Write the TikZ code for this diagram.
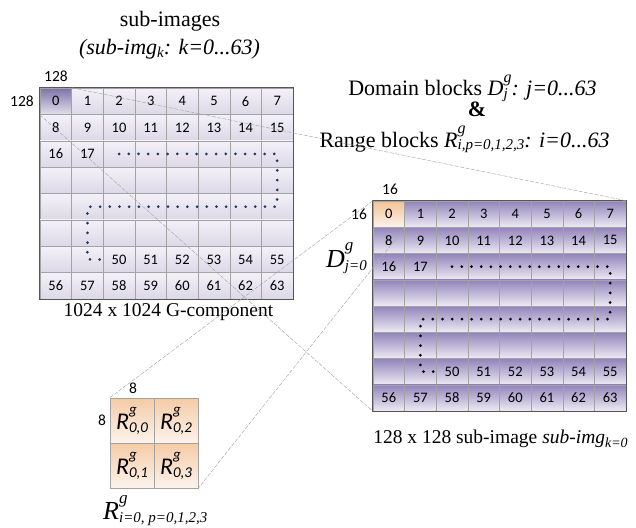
\documentclass[tikz,border=0pt]{standalone}
\usepackage{fontspec}
\setmainfont{Liberation Serif}
\newfontfamily\numfont{Carlito}
\usetikzlibrary{calc,shadings}

\definecolor{lavtop}{HTML}{F3F1F8}
\definecolor{lavbot}{HTML}{DCD8E7}
\definecolor{lavdark}{HTML}{7D72A7}
\definecolor{purtop}{HTML}{9083BA}
\definecolor{purbot}{HTML}{EEEBF4}
\definecolor{peachtop}{HTML}{F3C296}
\definecolor{peachbot}{HTML}{FCF3EC}
\definecolor{gridline}{HTML}{A3A3A3}
\definecolor{frame}{HTML}{555555}
\definecolor{navydot}{HTML}{1F3864}

% superscript and subscript stacked at the same horizontal position
\newcommand\supsub[4]{%
  \setbox0=\hbox{\fontsize{#1}{#1}\selectfont #3}%
  \setbox2=\hbox{\fontsize{#2}{#2}\selectfont #4}%
  \ifdim\wd0>\wd2 \dimen0=\wd0 \else\dimen0=\wd2 \fi
  \hbox to \dimen0{\rlap{\raise0.62em\box0}\lower0.12em\box2\hfil}}

\begin{document}
\begin{tikzpicture}[x=1pt,y=-1pt,
  cellbase/.style={inner sep=0pt, draw=gridline, line width=0.5pt,
    font=\numfont\fontsize{14.5}{14.5}\selectfont},
  lcell/.style={cellbase, minimum width=31.625pt, minimum height=26.375pt,
    top color=lavtop, bottom color=lavbot},
  rcell/.style={cellbase, minimum width=31.625pt, minimum height=26.25pt,
    top color=purtop, bottom color=purbot},
  qcell/.style={cellbase, minimum width=44pt, minimum height=45pt,
    top color=peachtop!85, bottom color=peachbot,
    font=\numfont\itshape\fontsize{24}{24}\selectfont},
  dimlabel/.style={inner sep=0pt, font=\numfont\fontsize{15.5}{15.5}\selectfont},
  title/.style={inner sep=0pt, anchor=base, font=\fontsize{22}{22}\selectfont},
  caption/.style={inner sep=0pt, anchor=base, font=\fontsize{19.5}{19.5}\selectfont},
  symlabel/.style={inner sep=0pt, anchor=base west, font=\itshape\fontsize{26}{26}\selectfont},
  outline/.style={draw=frame, line width=1.2pt},
  guide/.style={draw=gray!70, line width=0.45pt, dash pattern=on 4pt off 1.5pt},
  dotpath/.style={line width=3pt, line cap=round, dash pattern=on 0pt off 9.7pt}
]
\useasboundingbox (0,0) rectangle (636,527);

% ---------- 1024 x 1024 G-component, split into 64 sub-images ----------
\foreach \r in {0,...,7}{
  \foreach \c in {0,...,7}{
    \pgfmathtruncatemacro\k{8*\r+\c}
    \def\celltext{}
    \ifnum\r<2 \edef\celltext{\k}\fi
    \ifnum\r=7 \edef\celltext{\k}\fi
    \ifnum\r=2 \ifnum\c<2 \edef\celltext{\k}\fi\fi
    \ifnum\r=6 \ifnum\c>1 \edef\celltext{\k}\fi\fi
    \node[lcell] (L\k) at ({40+31.625*(\c+0.5)},{88+26.375*(\r+0.5)}) {\celltext};
  }
}
\node[lcell, top color=lavdark, bottom color=lavbot!80] (L0b) at (L0.center) {0};
\draw[outline] (L0.north west) rectangle (L63.south east);
\draw[dotpath, navydot] (L18.center) -- (L23.center) -- (L39.center)
  -- (L33.center) -- (L49.center) -- (L49.east);

% ---------- one 128 x 128 sub-image, split into 64 domain blocks ----------
\foreach \r in {0,...,7}{
  \foreach \c in {0,...,7}{
    \pgfmathtruncatemacro\k{8*\r+\c}
    \def\celltext{}
    \ifnum\r<2 \edef\celltext{\k}\fi
    \ifnum\r=7 \edef\celltext{\k}\fi
    \ifnum\r=2 \ifnum\c<2 \edef\celltext{\k}\fi\fi
    \ifnum\r=6 \ifnum\c>1 \edef\celltext{\k}\fi\fi
    \node[rcell] (R\k) at ({373+31.625*(\c+0.5)},{201+26.25*(\r+0.5)}) {\celltext};
  }
}
\node[rcell, top color=peachtop, bottom color=peachbot] (R0b) at (R0.center) {0};
\draw[outline] (R0.north west) rectangle (R63.south east);
\draw[dotpath, black] (R18.center) -- (R23.center) -- (R39.center)
  -- (R33.center) -- (R49.center) -- (R49.east);

% ---------- 8 x 8 range blocks inside domain block 0 ----------
\node[qcell] (Q0) at (132,420.5) {R\supsub{15}{15}{g}{0,0}};
\node[qcell] (Q2) at (176,420.5) {R\supsub{15}{15}{g}{0,2}};
\node[qcell] (Q1) at (132,465.5) {R\supsub{15}{15}{g}{0,1}};
\node[qcell] (Q3) at (176,465.5) {R\supsub{15}{15}{g}{0,3}};

% ---------- size labels ----------
\node[dimlabel] (w128) at (56,76) {128};
\node[dimlabel] (h128) at (22,101.5) {128};
\node[dimlabel] (w16) at (390,189) {16};
\node[dimlabel] (h16) at (359,214) {16};
\node[dimlabel] (w8) at (133,388) {8};
\node[dimlabel] (h8) at (102,420) {8};

% ---------- titles and captions ----------
\node[title] (t1) at (170,26.5) {sub-images};
\node[title] (t2) at (169.5,54.3) {\textit{(sub-img\supsub{15}{15}{}{\lower0.05em\hbox{k}}: k=0...63)}};
\node[title] (t3) at (472.5,95.7) {Domain blocks \textit{D\supsub{16}{15}{g}{j}: j=0...63}};
\node[title] (t4) at (477,116.7) {\textbf{\&}};
\node[title] (t5) at (464.5,147.3) {Range blocks \textit{R\supsub{16}{15}{g}{i,p=0,1,2,3}: i=0...63}};
\node[caption] (c1) at (168.5,316.7) {1024 x 1024 G-component};
\node[caption] (c2) at (500.5,443.3) {128 x 128 sub-image \textit{sub-img\supsub{14}{14}{}{\lower0.1em\hbox{k=0}}}};
\node[symlabel] (dlab) at (326,267) {D\supsub{17}{15}{g}{j=0}};
\node[symlabel] (rlab) at (103,519.5) {R\supsub{17}{15}{g}{i=0, p=0,1,2,3}};

% ---------- zoom guides between the levels ----------
\draw[guide] (L0.north east) -- (R7.north east);
\draw[guide] (L0.south west) -- (R56.south west);
\draw[guide] (R0.north west) -- (Q0.north west);
\draw[guide] (R0.south east) -- (Q3.south east);
\end{tikzpicture}
\end{document}
